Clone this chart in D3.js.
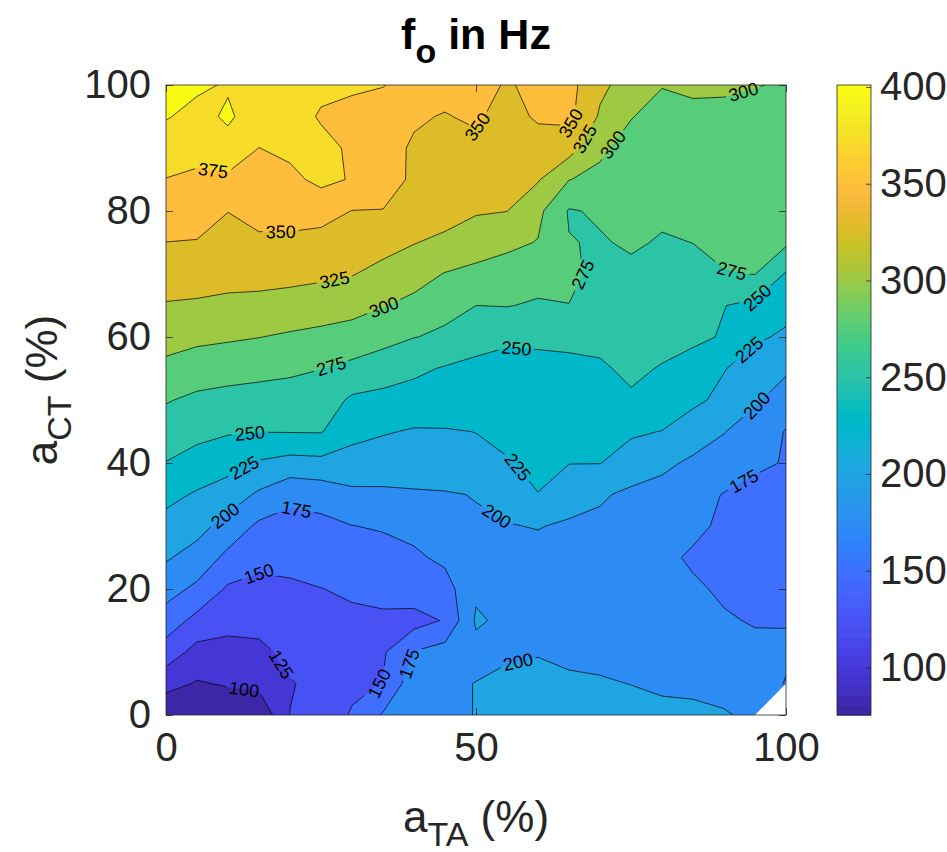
<!DOCTYPE html>
<html>
<head>
<meta charset="utf-8">
<script src="https://cdn.jsdelivr.net/npm/d3@7"></script>
<style>
body { margin: 0; background: #fff; }
text { font-family: "Liberation Sans", Arial, Helvetica, sans-serif; fill: #262626; }
</style>
</head>
<body>
<div id="chart"></div>
<script>
// grid axes: a_TA across, a_CT from top (100) to bottom (0)
var aTA = d3.range(0, 101, 5);
var aCT = d3.range(100, -1, -5);

// f_o in Hz, one row per a_CT value (100 ... 0), columns a_TA 0 ... 100
var fo = [
  [406, 403.5, 398.1, 388, 382, 377.3, 376, 375.8, 368, 356, 356, 348.5, 354, 358, 330, 315, 301, 306, 305, 301, 298],
  [401.5, 393.8, 402.9, 389.7, 379.6, 374, 373, 365, 352, 349, 353, 342, 353, 356, 322, 301, 292, 292, 292, 291, 289],
  [388.8, 382.2, 393.2, 374.8, 380.4, 377.9, 373.5, 356, 348, 346, 345, 337, 340, 335.5, 304, 292, 290, 290, 291, 291, 289],
  [374.3, 370.9, 369.3, 365.8, 369.1, 381, 373.3, 358, 347, 341, 337, 333, 327, 300.5, 295, 290, 288, 290, 291, 292, 290],
  [362.1, 360, 350.4, 356.7, 357.9, 358.5, 349.5, 349.5, 343, 336, 327, 325.3, 306, 273, 278, 284, 279, 283, 286, 287, 285],
  [349.8, 348.9, 341, 346.5, 345.8, 342.2, 337.6, 333, 326, 319, 313, 305, 299, 276, 273, 278, 273, 275.2, 280, 283, 279],
  [336.7, 335.7, 331.8, 333.2, 331.9, 329.5, 326.1, 318, 309, 299, 293, 290, 285, 279, 270, 270, 266, 268, 274, 275.5, 248],
  [323.3, 321.9, 320.5, 318.2, 315.5, 312.5, 308.7, 301, 294, 280, 275, 276, 272, 274.7, 270, 268, 266, 262, 250.5, 244, 231],
  [309.3, 305.6, 303.1, 300.4, 296.8, 293.5, 289.5, 283, 275.5, 272, 258, 252, 252, 255, 258, 262, 260, 255, 248, 228, 222],
  [294.1, 287.3, 284.5, 282, 279.2, 275.4, 269.2, 262, 255, 248, 245, 246, 247, 245, 246, 256, 248, 240, 226, 215, 205],
  [276.7, 270.2, 267.4, 265.7, 264.7, 263.3, 246, 243, 240, 238, 236, 239, 243, 245, 245, 246, 240, 230, 219, 204, 185],
  [262.9, 256.7, 252.1, 250.6, 251.1, 251.4, 232.7, 227, 223, 223.5, 225.3, 232, 240, 238, 234, 228, 224.5, 212, 201, 186, 174],
  [249.3, 240.5, 234, 222.4, 216.1, 218, 214.8, 212, 214, 216, 220, 223, 231, 225.5, 225.5, 215, 205, 196, 188, 178, 174],
  [231.9, 222.4, 213.2, 196.2, 181.3, 185, 195, 196, 197, 198, 201, 208, 224.5, 210, 203, 195, 192, 183, 174, 170, 168],
  [216.6, 207.8, 191, 170.3, 166.6, 168.6, 174.6, 177, 182, 190, 197, 199, 201, 197, 195, 191, 187, 180, 171, 168, 168],
  [202.5, 190.9, 168.6, 156.4, 156.1, 159.1, 163.8, 167, 171, 180, 190, 192, 193, 192, 190, 186, 180, 172, 168, 167, 167],
  [184.5, 169.8, 146.6, 143.8, 146.7, 149.6, 153, 157, 166, 165, 196, 192, 190, 188, 187, 185, 183, 178, 172, 170, 169],
  [163.8, 142.5, 132.2, 132.2, 138.7, 142, 146, 146, 140, 152, 203, 195, 193, 190, 188, 186, 184, 181, 177, 173.5, 174],
  [138.7, 116.8, 117.5, 119.9, 130.7, 137, 143, 147, 176, 185, 193, 195, 198, 196, 193, 190, 188, 186, 183, 180, 178],
  [108.9, 98, 102.4, 106.5, 123.8, 130, 143, 151, 190, 196, 200.5, 208, 210, 203, 202.5, 199.5, 196, 195, 192, 185, 174],
  [79, 80, 80, 80, 125.3, 131, 153, 177.4, 185, 192, 201, 210, 215, 215, 213, 210, 206, 205, 202, 195, null]
];

var levels = d3.range(100, 401, 25);
var cbTicks = d3.range(100, 401, 50);
var xTicks = [0, 50, 100];
var yTicks = [0, 20, 40, 60, 80, 100];
var cRange = [75.5, 401];

// contour labels: level, a_TA, a_CT (approximate spot, snapped to the line)
var labelSpots = [
  [375, 7.6, 86.5], [350, 18.5, 76.5], [325, 27.3, 68.5], [300, 35.4, 64.1],
  [275, 26.7, 55.2], [350, 51.2, 92.7], [350, 65.2, 94], [325, 67.6, 91.4],
  [300, 72.1, 90.5], [300, 93.1, 99], [275, 68.4, 69.4], [275, 91.2, 70.3],
  [250, 56.6, 59.2], [250, 94.7, 67], [225, 94.2, 57.8], [250, 13.5, 44.9],
  [225, 12.7, 39.1], [200, 9.5, 31.7], [175, 21.3, 34.1], [150, 14.6, 23.5],
  [125, 18.4, 7.9], [100, 12.5, 3.4], [150, 35.0, 4.7], [175, 39.6, 8.0],
  [225, 56.0, 38.8], [200, 53.1, 31.2], [200, 56.6, 9.3], [200, 95.3, 49.1],
  [175, 93.1, 37.3]
];

// MATLAB parula colormap, 64 entries
var parula = [
 [0.2422,0.1504,0.6603],[0.2504,0.1650,0.7076],[0.2578,0.1818,0.7511],[0.2647,0.1978,0.7952],
 [0.2706,0.2147,0.8364],[0.2751,0.2342,0.8710],[0.2783,0.2559,0.8991],[0.2803,0.2782,0.9221],
 [0.2813,0.3006,0.9414],[0.2810,0.3228,0.9579],[0.2795,0.3447,0.9717],[0.2760,0.3667,0.9829],
 [0.2699,0.3892,0.9906],[0.2602,0.4123,0.9952],[0.2440,0.4358,0.9988],[0.2206,0.4603,0.9973],
 [0.1963,0.4847,0.9892],[0.1834,0.5074,0.9798],[0.1786,0.5289,0.9682],[0.1764,0.5499,0.9520],
 [0.1687,0.5703,0.9359],[0.1540,0.5902,0.9218],[0.1460,0.6091,0.9079],[0.1380,0.6276,0.8973],
 [0.1248,0.6459,0.8883],[0.1113,0.6635,0.8763],[0.0952,0.6798,0.8598],[0.0689,0.6948,0.8394],
 [0.0297,0.7082,0.8163],[0.0036,0.7203,0.7917],[0.0067,0.7312,0.7660],[0.0433,0.7411,0.7394],
 [0.0964,0.7500,0.7120],[0.1408,0.7584,0.6842],[0.1717,0.7670,0.6554],[0.1938,0.7758,0.6251],
 [0.2161,0.7843,0.5923],[0.2470,0.7918,0.5567],[0.2906,0.7973,0.5188],[0.3406,0.8008,0.4789],
 [0.3909,0.8029,0.4354],[0.4456,0.8024,0.3909],[0.5044,0.7993,0.3480],[0.5616,0.7942,0.3045],
 [0.6174,0.7876,0.2612],[0.6720,0.7793,0.2227],[0.7242,0.7698,0.1910],[0.7738,0.7598,0.1646],
 [0.8203,0.7498,0.1535],[0.8634,0.7406,0.1596],[0.9035,0.7330,0.1774],[0.9393,0.7288,0.2100],
 [0.9728,0.7298,0.2394],[0.9956,0.7434,0.2371],[0.9970,0.7659,0.2199],[0.9952,0.7893,0.2028],
 [0.9892,0.8136,0.1885],[0.9786,0.8386,0.1766],[0.9676,0.8639,0.1643],[0.9610,0.8890,0.1537],
 [0.9597,0.9135,0.1423],[0.9628,0.9373,0.1265],[0.9691,0.9606,0.1064],[0.9769,0.9839,0.0805]
];
function cmap(k) {
  var c = parula[Math.max(0, Math.min(63, k))];
  return d3.rgb(c[0] * 255, c[1] * 255, c[2] * 255).formatHex();
}
function bandColor(v) {
  return cmap(Math.floor((v - cRange[0]) / (cRange[1] - cRange[0]) * 64));
}

var W = 947, H = 852;
var x = d3.scaleLinear().domain([0, 100]).range([166, 786]);
var y = d3.scaleLinear().domain([0, 100]).range([715, 85]);
var cy = d3.scaleLinear().domain(cRange).range([715, 85]);
var cbX = 837, cbW = 34;

var svg = d3.select("#chart").append("svg")
  .attr("width", W).attr("height", H);
var defs = svg.append("defs");
defs.append("clipPath").attr("id", "plotclip")
  .append("rect").attr("x", x(0)).attr("y", y(100))
  .attr("width", x(100) - x(0)).attr("height", y(0) - y(100));

// grid -> flat values, missing nodes filled for contouring and masked later
var nx = aTA.length, ny = aCT.length;
var flat = [], holes = [];
fo.forEach(function(row, j) {
  row.forEach(function(v, i) {
    if (v == null) holes.push([i, j]);
    flat.push(v);
  });
});
holes.forEach(function(h) {
  var nb = [];
  [[1, 0], [-1, 0], [0, 1], [0, -1]].forEach(function(d) {
    var ii = h[0] + d[0], jj = h[1] + d[1];
    if (ii >= 0 && ii < nx && jj >= 0 && jj < ny && fo[jj][ii] != null) nb.push(fo[jj][ii]);
  });
  flat[h[1] * nx + h[0]] = d3.mean(nb);
});

var contours = d3.contours().size([nx, ny]).thresholds(levels)(flat);

// grid index space -> data space
var gx = d3.scaleLinear().domain([0.5, nx - 0.5]).range([aTA[0], aTA[nx - 1]]);
var gy = d3.scaleLinear().domain([0.5, ny - 0.5]).range([aCT[0], aCT[ny - 1]]);
var proj = d3.geoTransform({
  point: function(px, py) { this.stream.point(x(gx(px)), y(gy(py))); }
});
var path = d3.geoPath(proj);

var plotG = svg.append("g").attr("clip-path", "url(#plotclip)");
plotG.append("rect")
  .attr("x", x(0)).attr("y", y(100))
  .attr("width", x(100) - x(0)).attr("height", y(0) - y(100))
  .attr("fill", cmap(0));
plotG.selectAll("path.band")
  .data(contours)
  .enter().append("path")
  .attr("class", "band")
  .attr("d", path)
  .attr("fill", function(d) { return bandColor(d.value); });

// mask that opens gaps in the lines under the labels
var mask = defs.append("mask").attr("id", "lblmask")
  .attr("maskUnits", "userSpaceOnUse")
  .attr("x", 0).attr("y", 0).attr("width", W).attr("height", H);
mask.append("rect").attr("width", W).attr("height", H).attr("fill", "white");

var lineG = plotG.append("g").attr("mask", "url(#lblmask)");
lineG.selectAll("path.iso")
  .data(contours)
  .enter().append("path")
  .attr("class", "iso")
  .attr("d", path)
  .attr("fill", "none")
  .attr("stroke", "#000")
  .attr("stroke-width", 0.7);

// labels snapped onto their contour line
function segmentsOf(c) {
  var segs = [];
  c.coordinates.forEach(function(poly) {
    poly.forEach(function(ring) {
      var pts = ring.map(function(p) { return [x(gx(p[0])), y(gy(p[1]))]; });
      for (var k = 1; k < pts.length; k++) {
        var a = pts[k - 1], b = pts[k];
        var mx = (a[0] + b[0]) / 2, my = (a[1] + b[1]) / 2;
        if (mx > x(0) + 0.5 && mx < x(100) - 0.5 && my > y(100) + 0.5 && my < y(0) - 0.5) segs.push([a, b]);
      }
    });
  });
  return segs;
}
var labelG = svg.append("g");
labelSpots.forEach(function(s) {
  var c = contours.filter(function(d) { return d.value === s[0]; })[0];
  var px = x(s[1]), py = y(s[2]);
  var best = null;
  segmentsOf(c).forEach(function(seg) {
    var a = seg[0], b = seg[1];
    var dx = b[0] - a[0], dy = b[1] - a[1];
    var L2 = dx * dx + dy * dy || 1;
    var t = Math.max(0, Math.min(1, ((px - a[0]) * dx + (py - a[1]) * dy) / L2));
    var qx = a[0] + t * dx, qy = a[1] + t * dy;
    var dist = (qx - px) * (qx - px) + (qy - py) * (qy - py);
    if (!best || dist < best.d) best = { d: dist, x: qx, y: qy, ang: Math.atan2(dy, dx) * 180 / Math.PI };
  });
  if (!best) return;
  var ang = best.ang;
  if (ang > 90) ang -= 180;
  if (ang < -90) ang += 180;
  var tr = "translate(" + best.x + "," + best.y + ") rotate(" + ang + ")";
  var t = labelG.append("text")
    .attr("transform", tr)
    .attr("text-anchor", "middle")
    .attr("dy", "0.36em")
    .style("font-size", "18px")
    .style("fill", "#000")
    .text(s[0]);
  var w = t.node().getComputedTextLength() + 6;
  mask.append("rect")
    .attr("transform", tr)
    .attr("x", -w / 2).attr("y", -8)
    .attr("width", w).attr("height", 16)
    .attr("fill", "black");
});

// missing data corner drawn blank
holes.forEach(function(h) {
  var i = h[0], j = h[1];
  [-1, 1].forEach(function(di) {
    [-1, 1].forEach(function(dj) {
      var i1 = i + di, j2 = j + dj;
      if (i1 < 0 || i1 >= nx || j2 < 0 || j2 >= ny) return;
      var pts = [[aTA[i], aCT[j]], [aTA[i1], aCT[j]], [aTA[i], aCT[j2]]];
      svg.append("polygon")
        .attr("points", pts.map(function(q) { return x(q[0]) + "," + y(q[1]); }).join(" "))
        .attr("fill", "#fff");
    });
  });
});

// axes
function styleAxis(g) {
  g.select(".domain").remove();
  g.selectAll(".tick line").attr("stroke", "#262626").attr("stroke-width", 0.8);
  g.selectAll(".tick text").style("font-size", "40px").attr("fill", "#262626")
    .style("font-family", "'Liberation Sans', Arial, Helvetica, sans-serif");
}
svg.append("g").attr("transform", "translate(0," + y(0) + ")")
  .call(d3.axisBottom(x).tickValues(xTicks).tickSize(-7).tickPadding(18).tickFormat(d3.format("d")))
  .call(styleAxis);
svg.append("g").attr("transform", "translate(0," + y(100) + ")")
  .call(d3.axisTop(x).tickValues(xTicks).tickSize(-7).tickFormat(""))
  .call(styleAxis);
svg.append("g").attr("transform", "translate(" + x(0) + ",0)")
  .call(d3.axisLeft(y).tickValues(yTicks).tickSize(-7).tickPadding(15).tickFormat(d3.format("d")))
  .call(styleAxis);
svg.append("g").attr("transform", "translate(" + x(100) + ",0)")
  .call(d3.axisRight(y).tickValues(yTicks).tickSize(-7).tickFormat(""))
  .call(styleAxis);
svg.append("rect")
  .attr("x", x(0)).attr("y", y(100))
  .attr("width", x(100) - x(0)).attr("height", y(0) - y(100))
  .attr("fill", "none").attr("stroke", "#262626").attr("stroke-width", 0.8);

// colorbar
var cbG = svg.append("g");
var steps = d3.range(64);
var stepH = (cy(cRange[0]) - cy(cRange[1])) / 64;
cbG.selectAll("rect.cb")
  .data(steps)
  .enter().append("rect")
  .attr("class", "cb")
  .attr("x", cbX)
  .attr("y", function(k) { return cy(cRange[0]) - (k + 1) * stepH; })
  .attr("width", cbW)
  .attr("height", stepH + 0.6)
  .attr("fill", function(k) { return cmap(k); });
cbG.append("rect")
  .attr("x", cbX).attr("y", cy(cRange[1]))
  .attr("width", cbW).attr("height", cy(cRange[0]) - cy(cRange[1]))
  .attr("fill", "none").attr("stroke", "#262626").attr("stroke-width", 0.8);
svg.append("g").attr("transform", "translate(" + (cbX + cbW) + ",0)")
  .call(d3.axisRight(cy).tickValues(cbTicks).tickSize(-5).tickPadding(9).tickFormat(d3.format("d")))
  .call(styleAxis);

// title and axis labels
var title = svg.append("text")
  .attr("x", 476).attr("y", 49)
  .attr("text-anchor", "middle")
  .style("font-size", "43px").style("font-weight", "bold").style("fill", "#000");
title.append("tspan").text("f");
title.append("tspan").attr("dy", 14).style("font-size", "34px").text("o");
title.append("tspan").attr("dy", -14).text(" in Hz");

var xl = svg.append("text")
  .attr("x", 476).attr("y", 832)
  .attr("text-anchor", "middle")
  .style("font-size", "44px");
xl.append("tspan").text("a");
xl.append("tspan").attr("dy", 14).style("font-size", "34px").text("TA");
xl.append("tspan").attr("dy", -14).text(" (%)");

var yl = svg.append("text")
  .attr("transform", "translate(57,390) rotate(-90)")
  .attr("text-anchor", "middle")
  .style("font-size", "44px");
yl.append("tspan").text("a");
yl.append("tspan").attr("dy", 14).style("font-size", "34px").text("CT");
yl.append("tspan").attr("dy", -14).text(" (%)");
</script>
</body>
</html>
